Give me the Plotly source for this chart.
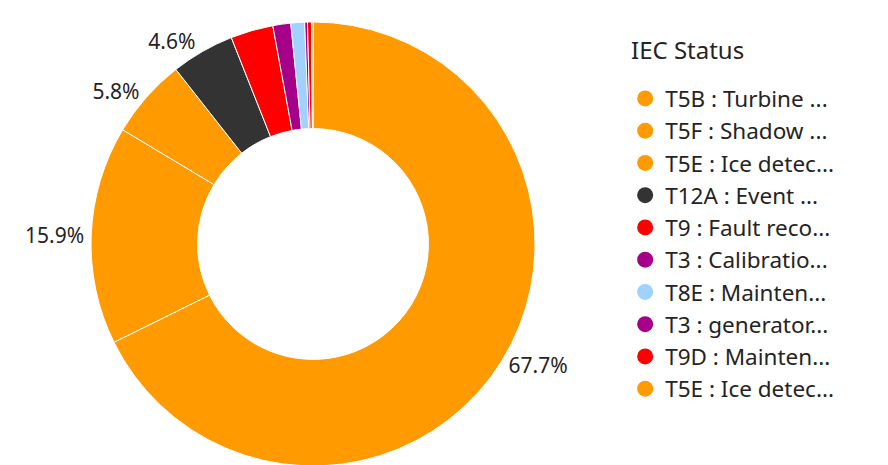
import plotly.graph_objects as go

labels = ["T5B : Turbine ...", "T5F : Shadow ...", "T5E : Ice detec...", "T12A : Event ...",
          "T9 : Fault reco...", "T3 : Calibratio...", "T8E : Mainten...", "T3 : generator...",
          "T9D : Mainten...", "T5E : Ice detec...\u200b"]
values = [67.7, 15.9, 5.8, 4.6, 3.1, 1.3, 1.0, 0.2, 0.3, 0.1]
colors = ["#FF9A00", "#FF9A00", "#FF9A00", "#333333", "#FF0000", "#A6008A",
          "#A0D1FF", "#A6008A", "#FF0000", "#FF9A00"]
shown = [True, True, True, True, False, False, False, False, False, False]
legend_title = "IEC Status"

FONT = "Noto Sans"
TXT = "#252423"

fig = go.Figure()
fig.add_trace(go.Pie(
    labels=labels, values=values, sort=False, direction="clockwise", rotation=0,
    hole=0.52,
    marker=dict(colors=colors, line=dict(color="white", width=1)),
    texttemplate=["%{percent:.1%}" if s else "" for s in shown],
    textposition="outside",
    outsidetextfont=dict(family=FONT, size=21, color=TXT),
    hoverinfo="label+percent",
    showlegend=False,
    domain=dict(x=[0.0935, 0.5935], y=[0.015, 0.970]),
))
for lab, col in zip(labels, colors):
    fig.add_trace(go.Scatter(x=[None], y=[None], mode="markers", name=lab,
                             marker=dict(color=col, size=16, symbol="circle")))

fig.add_annotation(text=legend_title, xref="paper", yref="paper",
                   x=0.6993, y=0.9097, xanchor="left", yanchor="middle",
                   showarrow=False, font=dict(family=FONT, size=24, color=TXT))

fig.update_layout(
    width=888, height=465,
    margin=dict(l=0, r=0, t=0, b=0),
    paper_bgcolor="white", plot_bgcolor="white",
    xaxis=dict(visible=False), yaxis=dict(visible=False),
    font=dict(family=FONT, color=TXT),
    legend=dict(
        x=0.695, y=0.851, xanchor="left", yanchor="top",
        font=dict(family=FONT, size=22.5, color=TXT),
        itemsizing="trace",
    ),
)
fig.write_html("out.html")
